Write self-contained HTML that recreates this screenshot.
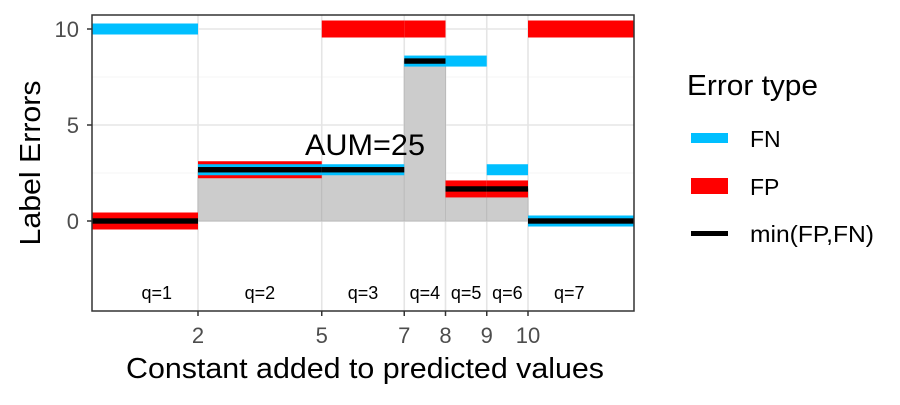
<!DOCTYPE html>
<html><head><meta charset="utf-8"><style>
body{margin:0;background:#fff}
text{font-family:"Liberation Sans",Arial,sans-serif}
</style></head><body>
<svg id="chart" width="900" height="400" xmlns="http://www.w3.org/2000/svg">
<rect width="900" height="400" fill="#fff"/>
<g id="grid"></g><g id="marks"></g><g id="axes"></g>
<text transform="translate(40,163) rotate(-90)" text-anchor="middle" font-size="29" textLength="165" lengthAdjust="spacingAndGlyphs" fill="#000">Label Errors</text>
<text x="365" y="378" text-anchor="middle" font-size="29" textLength="478" lengthAdjust="spacingAndGlyphs" fill="#000">Constant added to predicted values</text>
<g>
<text x="687" y="95" font-size="29" textLength="131" lengthAdjust="spacingAndGlyphs" fill="#000">Error type</text>
<rect x="691" y="133" width="37" height="10" fill="#00BFFF"/>
<text x="750" y="147" font-size="23">FN</text>
<rect x="691" y="178" width="37" height="16" fill="#FF0000"/>
<text x="750" y="195" font-size="23">FP</text>
<rect x="691" y="231" width="37" height="5" fill="#000"/>
<text x="750" y="242" font-size="23" textLength="124" lengthAdjust="spacingAndGlyphs">min(FP,FN)</text>
</g>
</svg>
<script>
const segStart=[0,2,5,7,8,9,10];
const segEnd=[2,5,7,8,9,10,12];
const qLabels=["q=1","q=2","q=3","q=4","q=5","q=6","q=7"];
const fnValues=[10,2.67,2.67,8.33,8.33,2.67,0];
const fpValues=[0,2.67,10,10,1.67,1.67,10];
const xTicks=[2,5,7,8,9,10];
const yTicks=[0,5,10];
const aumLabel="AUM=25";

const L=92,R=634,T=15,B=311;
const xs=v=>198+(v-2)*41.25;
const ys=v=>221-v*19.2;
const NS="http://www.w3.org/2000/svg";
function mk(parent,tag,attrs){const e=document.createElementNS(NS,tag);for(const k in attrs)e.setAttribute(k,attrs[k]);document.getElementById(parent).appendChild(e);return e;}
const clampL=(i,v)=>i===0?L:xs(v);
const clampR=(i,v)=>i===segEnd.length-1?R:xs(v);

yTicks.forEach(t=>{const g=mk('grid','line',{x1:L,x2:R,y1:ys(t),y2:ys(t),stroke:'#e5e5e5','stroke-width':1.6});

});
[2.5,7.5].forEach(t=>{const g=mk('grid','line',{x1:L,x2:R,y1:ys(t),y2:ys(t),stroke:'#f2f2f2','stroke-width':0.8});

});
xTicks.forEach(t=>{const g=mk('grid','line',{x1:xs(t),x2:xs(t),y1:T,y2:B,stroke:'#e5e5e5','stroke-width':1.6});

});

for(let i=0;i<segStart.length;i++){
 const m=Math.min(fnValues[i],fpValues[i]);
 const x1=xs(segStart[i]),x2=xs(segEnd[i]);
 if(i===0||i===segStart.length-1) continue;
 const r=mk('marks','rect',{x:x1,y:Math.min(ys(m),ys(0)),width:x2-x1,height:Math.abs(ys(0)-ys(m)),fill:'#cccccc',stroke:'#bbbbbb','stroke-width':1});
 
 
}
for(let i=0;i<segStart.length;i++){
 const x1=clampL(i,segStart[i]),x2=clampR(i,segEnd[i]);
 const fp=mk('marks','rect',{x:x1,y:ys(fpValues[i])-8.5,width:x2-x1,height:17,fill:'#FF0000'});
 
 
}
for(let i=0;i<segStart.length;i++){
 const x1=clampL(i,segStart[i]),x2=clampR(i,segEnd[i]);
 const fn=mk('marks','rect',{x:x1,y:ys(fnValues[i])-5.5,width:x2-x1,height:11,fill:'#00BFFF'});
 
 
}
for(let i=0;i<segStart.length;i++){
 const x1=clampL(i,segStart[i]),x2=clampR(i,segEnd[i]);
 const m=Math.min(fnValues[i],fpValues[i]);
 const b=mk('marks','rect',{x:x1,y:ys(m)-2.7,width:x2-x1,height:5.4,fill:'#000'});
 
 
 const t=mk('marks','text',{x:(xs(segStart[i])+xs(segEnd[i]))/2,y:299,'text-anchor':'middle','font-size':18,fill:'#000'});
 t.textContent=qLabels[i];
 
 
}
const a=mk('marks','text',{x:365,y:155,'text-anchor':'middle','font-size':30,textLength:120,lengthAdjust:'spacingAndGlyphs',fill:'#000'});
a.textContent=aumLabel;



const p=mk('axes','rect',{x:L,y:T,width:R-L,height:B-T,fill:'none',stroke:'#333','stroke-width':1.5});


yTicks.forEach(t=>{
 const l=mk('axes','line',{x1:L-5,x2:L,y1:ys(t),y2:ys(t),stroke:'#333','stroke-width':1.5});
 
 
 const tx=mk('axes','text',{x:L-13,y:ys(t)+8,'text-anchor':'end','font-size':22,fill:'#4d4d4d'});
 tx.textContent=t;
 
 
});
xTicks.forEach(t=>{
 const l=mk('axes','line',{x1:xs(t),x2:xs(t),y1:B,y2:B+5,stroke:'#333','stroke-width':1.5});
 
 
 const tx=mk('axes','text',{x:xs(t),y:B+32,'text-anchor':'middle','font-size':22,fill:'#4d4d4d'});
 tx.textContent=t;
 
 
});
</script>
</body></html>
